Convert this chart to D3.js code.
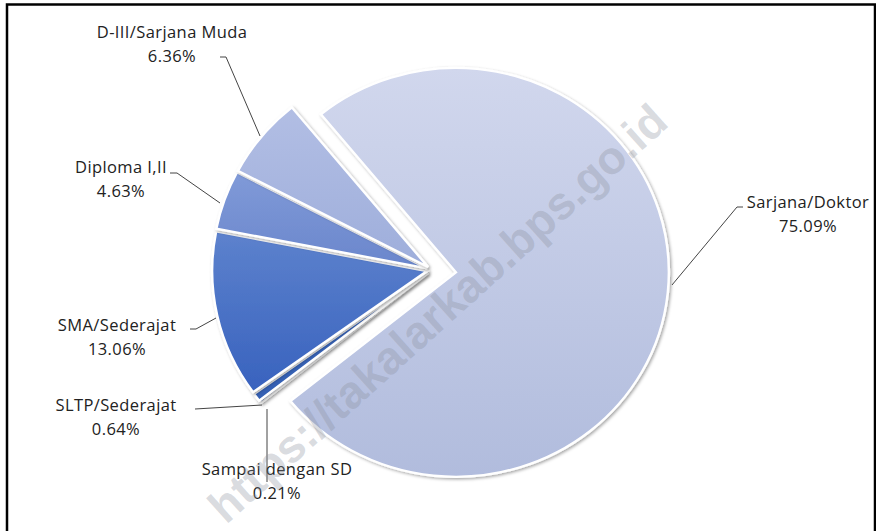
<!DOCTYPE html>
<html>
<head>
<meta charset="utf-8">
<script src="https://cdn.jsdelivr.net/npm/d3@7"></script>
<style>
  body { margin: 0; background: #fff; }
  text { font-family: "Open Sans", "Noto Sans", sans-serif; fill: #222; }
</style>
</head>
<body>
<div id="chart"></div>
<script>
// data, in clockwise drawing order
const categories = ["Sampai dengan SD", "SLTP/Sederajat", "SMA/Sederajat", "Diploma I,II", "D-III/Sarjana Muda", "Sarjana/Doktor"];
const values = [0.21, 0.64, 13.06, 4.63, 6.36, 75.09];
const valueLabels = ["0.21%", "0.64%", "13.06%", "4.63%", "6.36%", "75.09%"];
const topColors = ["#3358a8", "#3d67ba", "#5d82cd", "#809ad8", "#b2bee4", "#d1d7ed"];
const bottomColors = ["#2a4f9c", "#3460b3", "#3862be", "#6a86cc", "#9eaedb", "#b1bcdd"];

// label placement: [text centre x, first baseline y, leader points]
const labelPos = [
  { x: 277, y: 475, line: [[267, 409], [267, 482]] },
  { x: 116, y: 411, line: [[195, 409], [262, 405]] },
  { x: 117, y: 331, line: [[190, 329], [196, 329], [216, 318]] },
  { x: 121, y: 173, line: [[170, 173], [177, 173], [220, 203]] },
  { x: 172, y: 38,  line: [[220, 57], [226, 57], [260, 136]] },
  { x: 808, y: 208, line: [[743, 207], [737, 207], [672, 285]] }
];

const width = 876, height = 531;
const cx = 432, cy = 270, radius = 213;
const startDeg = 231;

const svg = d3.select("#chart").append("svg")
  .attr("width", width).attr("height", height);

const defs = svg.append("defs");
const shadow = defs.append("filter").attr("id", "shadow")
  .attr("x", "-10%").attr("y", "-10%").attr("width", "120%").attr("height", "120%");
shadow.append("feDropShadow")
  .attr("dx", 1.5).attr("dy", 1.5).attr("stdDeviation", 1.5)
  .attr("flood-color", "#000").attr("flood-opacity", 0.35);

categories.forEach((c, i) => {
  const g = defs.append("linearGradient").attr("id", "grad" + i)
    .attr("x1", 0).attr("y1", 0).attr("x2", 0).attr("y2", 1);
  g.append("stop").attr("offset", "0%").attr("stop-color", topColors[i]);
  g.append("stop").attr("offset", "100%").attr("stop-color", bottomColors[i]);
});

const pie = d3.pie().sort(null).value(d => d)
  .startAngle(startDeg * Math.PI / 180)
  .endAngle(startDeg * Math.PI / 180 + 2 * Math.PI);
const arcs = pie(values);
const arc = d3.arc().innerRadius(0).outerRadius((d, i) => d.index === 5 ? radius : radius + 2);

const pieG = svg.append("g")
  .attr("transform", `translate(${cx},${cy}) scale(1,0.96)`);

pieG.selectAll("path")
  .data(arcs)
  .enter()
  .append("path")
  .attr("d", arc)
  .attr("fill", (d, i) => `url(#grad${i})`)
  .attr("stroke", "#fff")
  .attr("stroke-width", 2.5)
  .attr("filter", "url(#shadow)")
  .attr("transform", (d, i) => {
    // big slice is pulled out, the rest only slightly
    const off = i === 5 ? 24 : 5;
    const mid = (d.startAngle + d.endAngle) / 2;
    return `translate(${off * Math.sin(mid)},${-off * Math.cos(mid)})`;
  });

// leader lines
const line = d3.line();
svg.append("g").selectAll("path")
  .data(labelPos)
  .enter()
  .append("path")
  .attr("d", d => line(d.line))
  .attr("fill", "none")
  .attr("stroke", "#444")
  .attr("stroke-width", 1);

// labels
const labels = svg.append("g").selectAll("text")
  .data(categories)
  .enter()
  .append("text")
  .attr("text-anchor", "middle")
  .style("font-size", "16.5px")
  .style("letter-spacing", "0.4px");
labels.append("tspan")
  .attr("x", (d, i) => labelPos[i].x)
  .attr("y", (d, i) => labelPos[i].y)
  .text(d => d);
labels.append("tspan")
  .attr("x", (d, i) => labelPos[i].x)
  .attr("y", (d, i) => labelPos[i].y + 24)
  .text((d, i) => valueLabels[i]);

// watermark
svg.append("text")
  .attr("transform", "translate(440,316) rotate(-42)")
  .attr("text-anchor", "middle")
  .attr("dominant-baseline", "middle")
  .style("font-size", "46px")
  .style("font-weight", "bold")
  .style("font-family", "Arial, 'Liberation Sans', sans-serif")
  .style("fill", "#8a8f9c")
  .style("fill-opacity", 0.32)
  .text("https://takalarkab.bps.go.id");

// frame
svg.append("path")
  .attr("d", "M7,533 L7,4.5 L875,4.5 L875,533")
  .attr("fill", "none")
  .attr("stroke", "#000")
  .attr("stroke-width", 2.5);
</script>
</body>
</html>
